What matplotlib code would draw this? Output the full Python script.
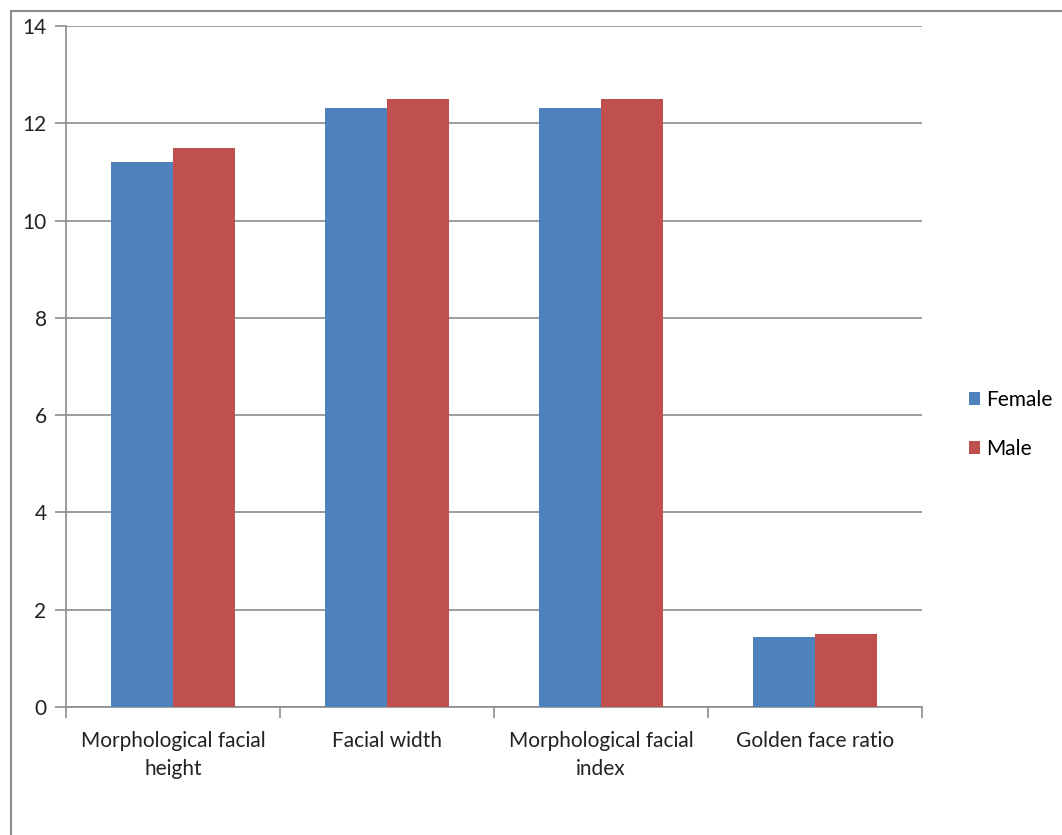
import matplotlib.pyplot as plt
import numpy as np
from matplotlib.patches import Rectangle

# facial measurement means by sex
categories = ["Morphological facial\nheight", "Facial width",
              "Morphological facial\nindex", "Golden face ratio"]
female = [11.2, 12.31, 12.31, 1.44]
male = [11.5, 12.5, 12.5, 1.5]
yticks = [0, 2, 4, 6, 8, 10, 12, 14]

plt.rcParams['font.family'] = ['Lato', 'DejaVu Sans']

fig = plt.figure(figsize=(10.62, 8.35), dpi=100)
ax = fig.add_axes([0.0621, 0.1533, 0.8060, 0.8156])

# frame around the whole chart area
fig.patches.append(Rectangle((11 / 1062, -0.05), 1.2, 1 - 11 / 835 + 0.05,
                             transform=fig.transFigure, fill=False,
                             edgecolor='#8c8c8c', linewidth=1.5))

x = np.arange(len(categories))
w = 0.29
ax.bar(x - w / 2, female, w, color='#4f81bd', label='Female', zorder=3)
ax.bar(x + w / 2, male, w, color='#c0504d', label='Male', zorder=3)

ax.set_xlim(-0.5, len(categories) - 0.5)
ax.set_ylim(0, 14)
ax.set_yticks(yticks)
ax.yaxis.grid(True, color='#8c8c8c', linewidth=1.2, zorder=0)

ax.set_xticks(x)
ax.set_xticklabels(categories, fontsize=15, color='#222222', linespacing=1.55)
ax.set_xticks(np.arange(-0.5, len(categories)), minor=True)
ax.tick_params(axis='x', which='major', length=0, pad=17)
ax.tick_params(axis='x', which='minor', length=8, color='#8c8c8c', width=1.2)
ax.tick_params(axis='y', length=8, color='#8c8c8c', width=1.2,
               labelsize=15, labelcolor='#222222', pad=6)

for side in ['top', 'right']:
    ax.spines[side].set_visible(False)
for side in ['left', 'bottom']:
    ax.spines[side].set_color('#8c8c8c')
    ax.spines[side].set_linewidth(1.2)

leg = ax.legend(loc='center left', bbox_to_anchor=(1.0, 0.415), frameon=False,
                fontsize=15, handlelength=0.55, handleheight=0.55,
                handletextpad=0.3, labelspacing=1.4, borderaxespad=1.85)

fig.savefig('out.png', dpi=100)
